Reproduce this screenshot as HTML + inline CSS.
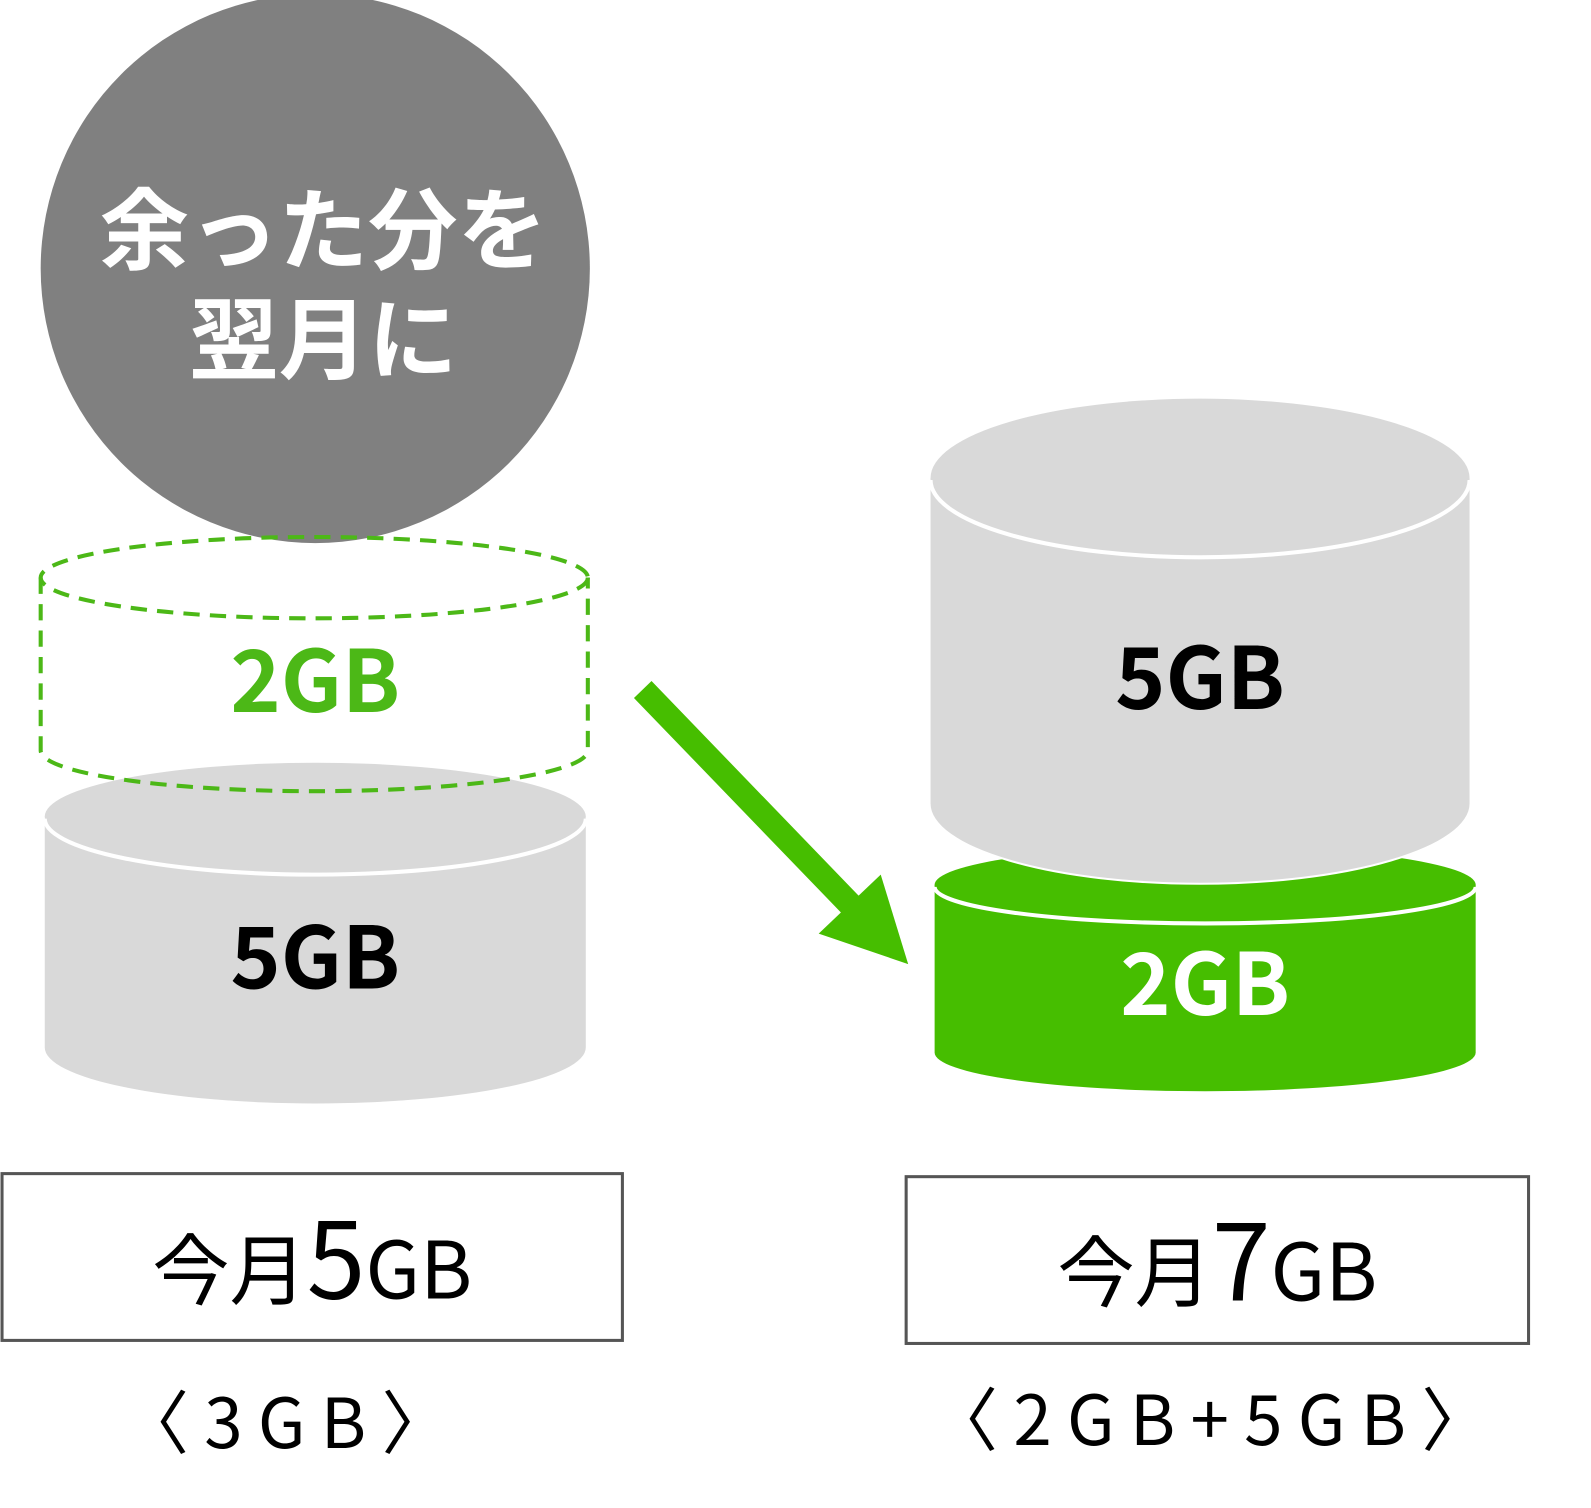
<!DOCTYPE html>
<html><head><meta charset="utf-8"><style>
html,body{margin:0;padding:0;background:#fff;}
svg{display:block;}
text{font-family:"Noto Sans CJK JP","Liberation Sans",sans-serif;}
</style></head><body>
<svg width="1591" height="1508" viewBox="0 0 1591 1508" xmlns="http://www.w3.org/2000/svg">
<g transform="scale(1.017)">
<!-- left gray cylinder -->
<path d="M44 805 L44 1030 A266 55 0 0 0 576 1030 L576 805 Z" fill="#d9d9d9"/>
<ellipse cx="310" cy="803" rx="266" ry="53" fill="#d9d9d9"/>
<path d="M44 805 A266 55 0 0 0 576 805" fill="none" stroke="#fff" stroke-width="4"/>
<text x="310" y="972" font-size="84" font-weight="bold" text-anchor="middle" fill="#000">5GB</text>

<!-- gray circle -->
<circle cx="310" cy="264" r="270" fill="#808080"/>
<text x="318" y="258" font-size="88" font-weight="bold" text-anchor="middle" fill="#fff">余った分を</text>
<text x="318" y="366" font-size="88" font-weight="bold" text-anchor="middle" fill="#fff">翌月に</text>

<!-- dashed cylinder -->
<g fill="none" stroke="#4cb817" stroke-width="4" stroke-dasharray="16 10">
<ellipse cx="309" cy="568" rx="269" ry="40"/>
<path d="M40 568 L40 738 A269 40 0 0 0 578 738 L578 568"/>
</g>
<text x="310" y="700" font-size="84" font-weight="bold" text-anchor="middle" fill="#4cb817">2GB</text>

<!-- arrow -->
<line x1="632" y1="678" x2="852" y2="906" stroke="#46be00" stroke-width="24"/>
<polygon points="805,918 866,860 893,948" fill="#46be00"/>

<!-- right green cylinder -->
<path d="M919 870 L919 1035 A266 38 0 0 0 1451 1035 L1451 870 Z" fill="#46be00"/>
<ellipse cx="1185" cy="870" rx="266" ry="38" fill="#46be00"/>
<path d="M919 872 A266 36 0 0 0 1451 872" fill="none" stroke="#fff" stroke-width="4"/>
<text x="1185" y="998" font-size="84" font-weight="bold" text-anchor="middle" fill="#fff">2GB</text>

<!-- right gray cylinder -->
<path d="M915 790 A265 78 0 0 0 1445 790" fill="none" stroke="#fff" stroke-width="4"/>
<path d="M915 470 L915 790 A265 78 0 0 0 1445 790 L1445 470 Z" fill="#d9d9d9"/>
<ellipse cx="1180" cy="470" rx="265" ry="78" fill="#d9d9d9"/>
<path d="M915 472 A265 76 0 0 0 1445 472" fill="none" stroke="#fff" stroke-width="4"/>
<text x="1180" y="697" font-size="84" font-weight="bold" text-anchor="middle" fill="#000">5GB</text>

<!-- boxes -->
<rect x="2" y="1154" width="610" height="164" fill="none" stroke="#555" stroke-width="3"/>
<rect x="891" y="1157" width="612" height="164" fill="none" stroke="#555" stroke-width="3"/>
<text x="307" y="1277" text-anchor="middle" fill="#000"><tspan font-size="76">今月</tspan><tspan font-size="104">5</tspan><tspan font-size="78">GB</tspan></text>
<text x="1197" y="1279" text-anchor="middle" fill="#000"><tspan font-size="76">今月</tspan><tspan font-size="104">7</tspan><tspan font-size="78">GB</tspan></text>
<text x="288" y="1424" font-size="68" text-anchor="middle" fill="#000" letter-spacing="15">〈3GB〉</text>
<text x="1197" y="1421" font-size="68" text-anchor="middle" fill="#000" letter-spacing="15">〈2GB+5GB〉</text>
</g>
</svg>
</body></html>
